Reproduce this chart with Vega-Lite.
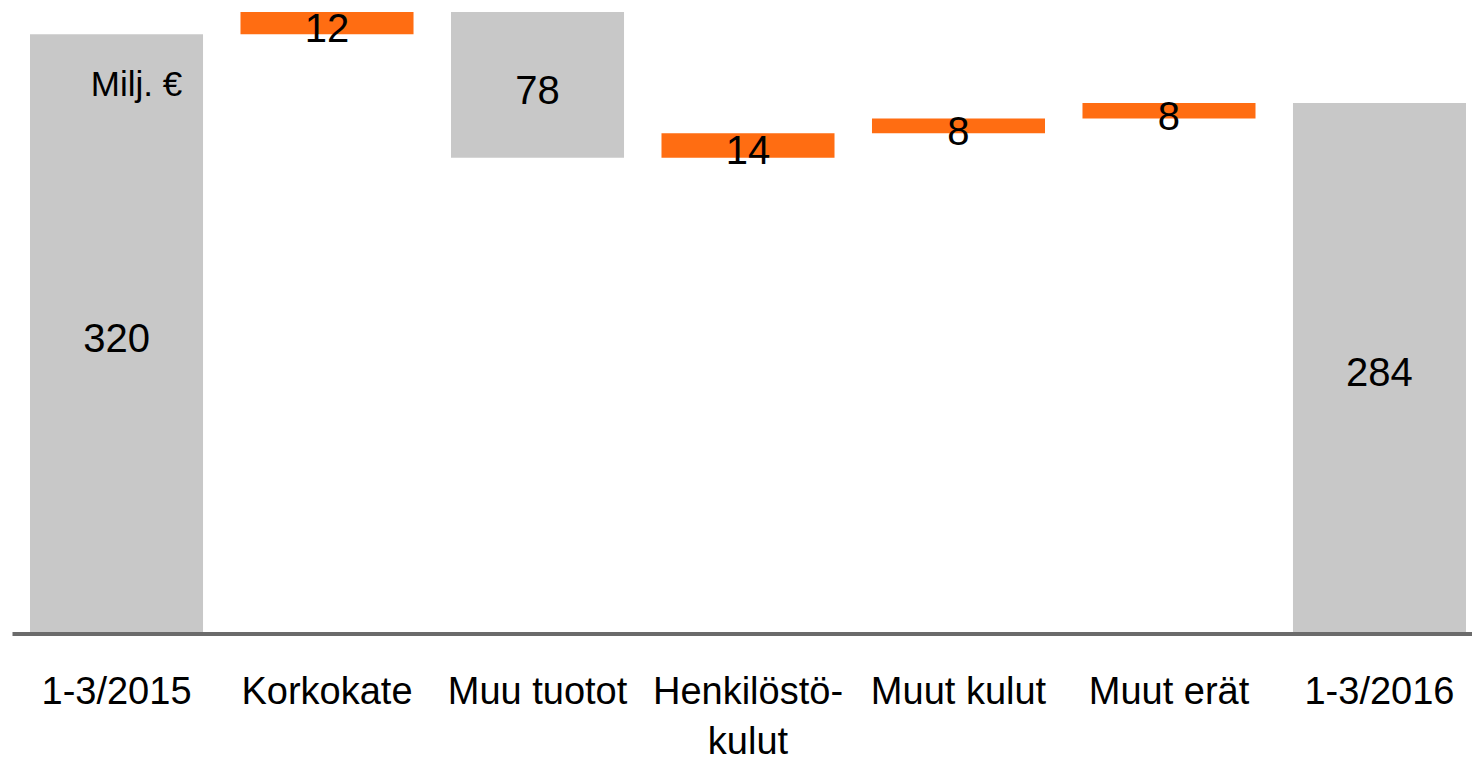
{
  "$schema": "https://vega.github.io/schema/vega-lite/v6.json",
  "width": 1460,
  "height": 632,
  "autosize": "none",
  "padding": {"left": 12, "top": 0, "right": 0, "bottom": 127},
  "background": "white",
  "config": {"view": {"stroke": null}, "font": "Liberation Sans"},
  "datasets": {
    "bars": [
      {"cat": "1-3/2015", "start": 0, "end": 320, "kind": "total", "label": "320"},
      {"cat": "Korkokate", "start": 320, "end": 332, "kind": "increase", "label": "12"},
      {"cat": "Muu tuotot", "start": 332, "end": 254, "kind": "decrease", "label": "78"},
      {"cat": "Henkilöstö-kulut", "start": 254, "end": 267, "kind": "increase", "label": "14"},
      {"cat": "Muut kulut", "start": 267, "end": 275, "kind": "increase", "label": "8"},
      {"cat": "Muut erät", "start": 275, "end": 283.3, "kind": "increase", "label": "8"},
      {"cat": "1-3/2016", "start": 0, "end": 283.3, "kind": "total", "label": "284"}
    ],
    "note": [
      {"cat": "1-3/2015", "v": 293, "text": "Milj. €"}
    ]
  },
  "layer": [
    {
      "data": {"name": "bars"},
      "mark": {"type": "bar"},
      "encoding": {
        "x": {
          "field": "cat", "type": "nominal", "sort": null,
          "scale": {"type": "band", "paddingInner": 0.178, "paddingOuter": 0.057, "align": 0.75},
          "axis": {
            "title": null, "ticks": false, "domainColor": "#6b6b6b", "domainWidth": 4, "offset": 1.5,
            "labelAngle": 0, "labelFontSize": 38, "labelColor": "#000000", "labelPadding": 40,
            "labelFont": "Liberation Sans", "labelLineHeight": 50, "labelBaseline": "top", "labelLimit": 0,
            "labelExpr": "datum.label == 'Henkilöstö-kulut' ? ['Henkilöstö-', 'kulut'] : datum.label"
          }
        },
        "y": {
          "field": "start", "type": "quantitative",
          "scale": {"domain": [0, 338.4], "nice": false, "zero": true},
          "axis": null
        },
        "y2": {"field": "end"},
        "color": {
          "field": "kind", "type": "nominal",
          "scale": {"domain": ["total", "decrease", "increase"], "range": ["#C8C8C8", "#C8C8C8", "#FF6D12"]},
          "legend": null
        }
      }
    },
    {
      "data": {"name": "bars"},
      "transform": [{"calculate": "(datum.start + datum.end) / 2", "as": "mid"}],
      "mark": {"type": "text", "fontSize": 40, "color": "#000000", "baseline": "middle", "align": "center", "dy": 7, "font": "Liberation Sans"},
      "encoding": {
        "x": {"field": "cat", "type": "nominal", "sort": null},
        "y": {"field": "mid", "type": "quantitative"},
        "text": {"field": "label"}
      }
    },
    {
      "data": {"name": "note"},
      "mark": {"type": "text", "fontSize": 35, "color": "#000000", "baseline": "middle", "align": "center", "dx": 20, "dy": 0, "font": "Liberation Sans"},
      "encoding": {
        "x": {"field": "cat", "type": "nominal", "sort": null},
        "y": {"field": "v", "type": "quantitative"},
        "text": {"field": "text"}
      }
    }
  ]
}
